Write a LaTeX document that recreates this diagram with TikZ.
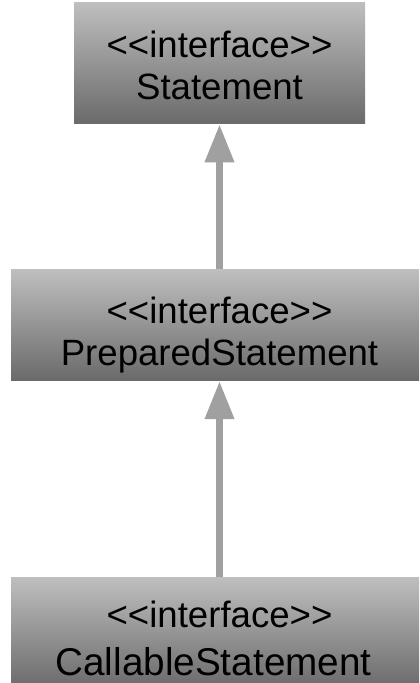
\documentclass[tikz,border=0pt]{standalone}
\usepackage{fontspec}
\setmainfont{Liberation Sans}
\usetikzlibrary{arrows.meta, positioning}

\definecolor{ifacetop}{RGB}{190,190,190}
\definecolor{ifacebottom}{RGB}{106,106,106}
\definecolor{extendsgray}{RGB}{160,160,160}

% keep << and >> from turning into guillemets
\newcommand\stereotype[1]{<\kern0pt<#1>\kern0pt>}

\tikzset{
  iface/.style={rectangle, top color=ifacetop, bottom color=ifacebottom,
    align=center, inner sep=0pt, text=black, text depth=0pt,
    font=\fontsize{18.3}{21}\selectfont},
  extends/.style={draw=extendsgray, line width=3.5pt,
    -{Triangle[length=19pt, width=14pt]}}
}

\begin{document}
\begin{tikzpicture}[x=0.5pt, y=-0.5pt]
  \useasboundingbox (0,0) rectangle (419,683);
  \clip (0,0) rectangle (419,683);

  % interface hierarchy
  \node[iface, minimum width=145.5pt, minimum height=60.5pt, text height=36.5pt]
    (stmt) at (219.5,63.5) {\stereotype{interface}\\Statement};
  \node[iface, minimum width=208.5pt, minimum height=55.5pt, text height=40.5pt,
    below=72.5pt of stmt] (prep) {\stereotype{interface}\\PreparedStatement};
  \node[iface, minimum width=208.5pt, minimum height=55.5pt, text height=42pt,
    font=\fontsize{19.35}{24}\selectfont, below=98pt of prep] (call)
    {{\fontsize{18.3}{24}\selectfont\stereotype{interface}}\\CallableStatement\hspace*{6pt}};

  % inheritance arrows
  \draw[extends] (prep) -- (stmt);
  \draw[extends] (call) -- (prep);
\end{tikzpicture}
\end{document}
